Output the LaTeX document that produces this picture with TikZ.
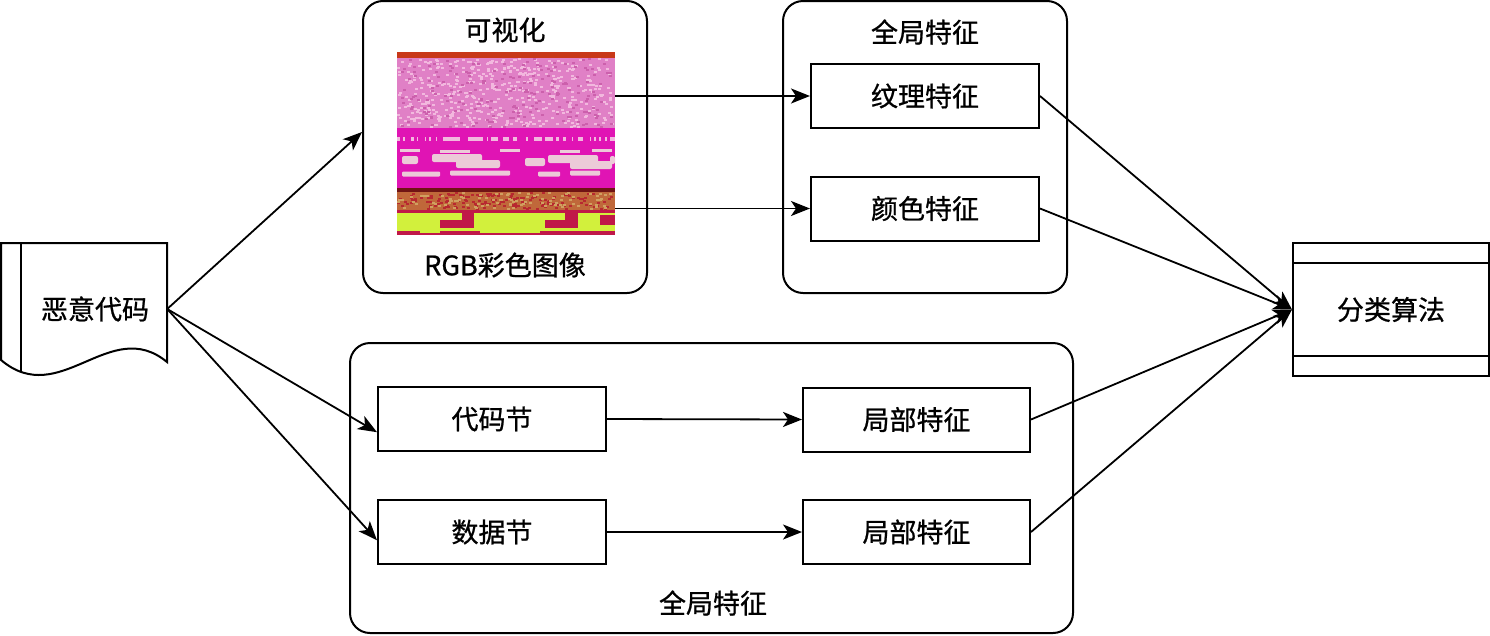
\documentclass[tikz,border=0pt]{standalone}
\usepackage{fontspec}
\setmainfont{Noto Sans CJK SC}[FakeBold=0.8]
\usetikzlibrary{arrows.meta,calc}
\definecolor{pinkbase}{HTML}{E080C6}
\definecolor{pinklight}{HTML}{F2B8DE}
\definecolor{pinkdark}{HTML}{CC60AC}
\definecolor{magenta1}{HTML}{E014B4}
\definecolor{paleblob}{HTML}{ECCAD8}
\definecolor{darkred}{HTML}{701414}
\definecolor{topred}{HTML}{C83818}
\definecolor{brown1}{HTML}{C0683A}
\definecolor{brownred}{HTML}{B82830}
\definecolor{brownlight}{HTML}{D0A060}
\definecolor{yelgreen}{HTML}{D2F03C}
\definecolor{redstreak}{HTML}{C01848}
\newcommand{\fsz}{\fontsize{27}{31}\selectfont}
\tikzset{
  boxnode/.style={draw, line width=2pt, minimum width=228pt, minimum height=64pt, inner sep=0pt, font=\fsz},
  groupbox/.style={draw, line width=2pt, rounded corners=20pt, inner sep=0pt},
  lbl/.style={font=\fsz, inner sep=0pt},
  arr/.style={-{Stealth[length=19pt,width=15pt,inset=5pt]}, line width=1.8pt},
}
\begin{document}
\begin{tikzpicture}[x=1pt,y=-1pt]
\useasboundingbox (0,0) rectangle (1490,635);
\fill[white] (0,0) rectangle (1490,635);

% group boxes
\node[groupbox, minimum width=284pt, minimum height=292pt] (vis) at (505,147) {};
\node[groupbox, minimum width=284pt, minimum height=292pt] (glob1) at (925,147) {};
\node[groupbox, minimum width=723pt, minimum height=290pt] (glob2) at (711.5,488) {};

% titles
\node[lbl] (vistitle) at (505,30) {可视化};
\node[lbl] (rgb) at (505,265) {RGB彩色图像};
\node[lbl] (glob1title) at (925,32) {全局特征};
\node[lbl] (glob2title) at (713,603) {全局特征};

% image
\node[minimum width=218pt, minimum height=183pt, inner sep=0pt] (img) at (506,143.5) {};
\fill[topred] (397,52) rectangle (615,58);
\fill[pinkbase] (397,58) rectangle (615,128);
\pgfmathsetseed{7}
\foreach \i in {1,...,500}{
  \pgfmathsetmacro\px{397+214*rnd}
  \pgfmathsetmacro\py{58+68*rnd}
  \fill[pinklight] (\px,\py) rectangle ++(3,2);
}
\foreach \i in {1,...,200}{
  \pgfmathsetmacro\px{397+214*rnd}
  \pgfmathsetmacro\py{58+68*rnd}
  \fill[pinkdark] (\px,\py) rectangle ++(3,2);
}
\fill[magenta1] (397,128) rectangle (615,188);
\fill[pinklight] (397,137) rectangle (615,141);
\foreach \i in {1,...,60}{
  \pgfmathsetmacro\px{397+212*rnd}
  \fill[magenta1] (\px,137) rectangle ++(3,4);
}
% pale blobs
\foreach \a/\b/\c in {402/418/160, 432/482/158, 456/500/164, 525/545/162, 548/598/159, 570/612/165, 610/615/160}{
  \fill[paleblob, rounded corners=2pt] (\a,\c-4) rectangle (\b,\c+4);
}
\foreach \a/\b/\c in {400/420/150, 440/470/151, 500/520/150, 560/580/151, 592/612/150}{
  \fill[paleblob] (\a,\c-1.5) rectangle (\b,\c+1.5);
}
\foreach \a/\b/\c in {402/440/174, 450/510/173, 538/560/174, 570/600/173}{
  \fill[paleblob, rounded corners=1pt] (\a,\c-2.5) rectangle (\b,\c+2.5);
}
\fill[darkred] (397,188) rectangle (615,192);
\fill[brown1] (397,192) rectangle (615,210);
\foreach \i in {1,...,160}{
  \pgfmathsetmacro\px{397+214*rnd}
  \pgfmathsetmacro\py{192+16*rnd}
  \fill[brownred] (\px,\py) rectangle ++(3,2);
}
\foreach \i in {1,...,100}{
  \pgfmathsetmacro\px{397+214*rnd}
  \pgfmathsetmacro\py{192+16*rnd}
  \fill[brownlight] (\px,\py) rectangle ++(3,2);
}
\fill[yelgreen] (397,210) rectangle (615,235);
\fill[redstreak] (397,210) rectangle (615,213);
\fill[redstreak] (462,210) rectangle (474,228);
\fill[redstreak] (440,220) rectangle (474,228);
\fill[redstreak] (565,210) rectangle (578,228);
\fill[redstreak] (545,220) rectangle (578,228);
\fill[redstreak] (397,231) rectangle (615,235);
\fill[yelgreen] (420,231) rectangle (440,233);
\fill[yelgreen] (480,231) rectangle (540,233);
\fill[redstreak] (600,215) rectangle (615,225);

% inner boxes
\node[boxnode] (tex) at (925,96) {纹理特征};
\node[boxnode] (col) at (925,208.5) {颜色特征};
\node[boxnode] (code) at (492,419) {代码节};
\node[boxnode, minimum width=227pt] (local1) at (916.5,419.5) {局部特征};
\node[boxnode] (data) at (492,532) {数据节};
\node[boxnode, minimum width=227pt] (local2) at (916.5,532) {局部特征};

% classifier
\node[draw, line width=2pt, minimum width=196pt, minimum height=133pt, inner sep=0pt, font=\fsz] (cls) at (1391,309.5) {分类算法};
\draw[line width=2pt] (cls.west |- 0,263) -- (cls.east |- 0,263);
\draw[line width=2pt] (cls.west |- 0,356) -- (cls.east |- 0,356);

% document shape
\node[minimum width=144pt, minimum height=132pt, inner sep=0pt, font=\fsz] (doc) at (95,309) {恶意代码};
\draw[line width=2pt, line join=miter] (1,243) -- (167,243) -- (167,362) .. controls (110,315) and (60,410) .. (1,360) -- cycle;
\begin{scope}
  \clip (1,243) -- (167,243) -- (167,362) .. controls (110,315) and (60,410) .. (1,360) -- cycle;
  \draw[line width=2pt] (21,243) -- (21,400);
\end{scope}

% connectors
\draw[arr] (doc.east) -- ($(vis.north west)!0.449!(vis.south west)$);
\draw[arr] (doc.east) -- ($(code.north west)!0.7!(code.south west)$);
\draw[arr] (doc.east) -- ($(data.north west)!0.625!(data.south west)$);
\draw[arr] (img.east |- tex.west) -- (tex.west);
\draw[arr] (img.east |- col.west) -- (col.west);
\draw[arr] (code.east) -- (local1.west);
\draw[arr] (data.east) -- (local2.west);
\draw[arr] (tex.east) -- (cls.west);
\draw[arr] (col.east) -- (cls.west);
\draw[arr] (local1.east) -- (cls.west);
\draw[arr] (local2.east) -- (cls.west);
\end{tikzpicture}
\end{document}
